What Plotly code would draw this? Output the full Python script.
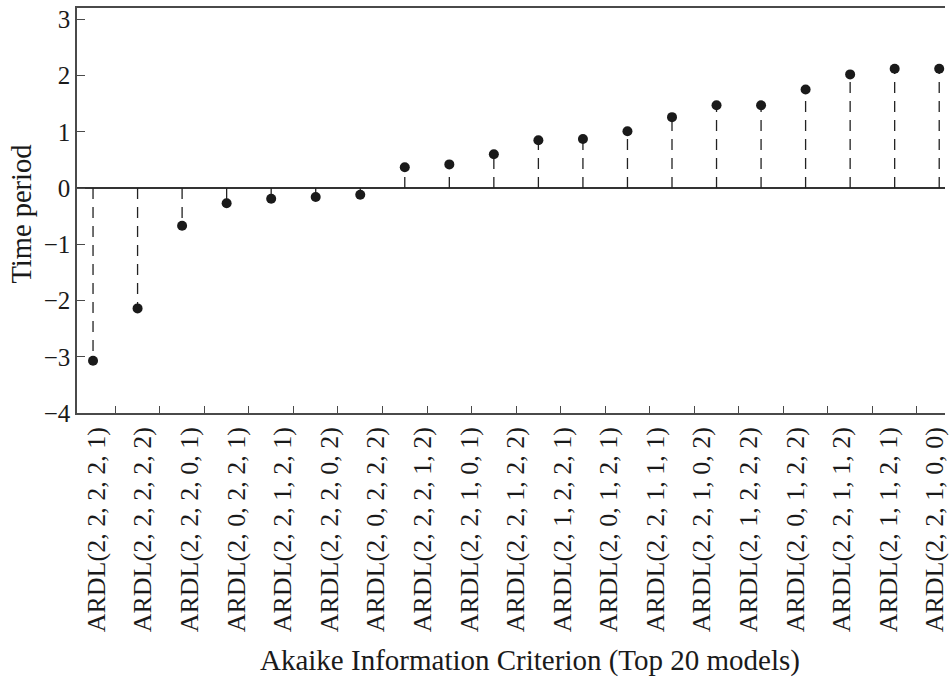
import plotly.graph_objects as go

# AIC values (time period) of the top 20 ARDL models
values = [-3.07, -2.14, -0.67, -0.27, -0.19, -0.16, -0.12, 0.37, 0.42, 0.60,
          0.85, 0.87, 1.01, 1.26, 1.47, 1.47, 1.75, 2.02, 2.12, 2.12]

# tick labels as printed under the axis (19 are visible, the last one is cut)
labels = [
    "ARDL(2, 2, 2, 2, 1)", "ARDL(2, 2, 2, 2, 2)", "ARDL(2, 2, 2, 0, 1)", "ARDL(2, 0, 2, 2, 1)",
    "ARDL(2, 2, 1, 2, 1)", "ARDL(2, 2, 2, 0, 2)", "ARDL(2, 0, 2, 2, 2)", "ARDL(2, 2, 2, 1, 2)",
    "ARDL(2, 2, 1, 0, 1)", "ARDL(2, 2, 1, 2, 2)", "ARDL(2, 1, 2, 2, 1)", "ARDL(2, 0, 1, 2, 1)",
    "ARDL(2, 2, 1, 1, 1)", "ARDL(2, 2, 1, 0, 2)", "ARDL(2, 1, 2, 2, 2)", "ARDL(2, 0, 1, 2, 2)",
    "ARDL(2, 2, 1, 1, 2)", "ARDL(2, 1, 1, 2, 1)", "ARDL(2, 2, 1, 0, 0)",
]

y_ticks = [-4, -3, -2, -1, 0, 1, 2, 3]

FONT = "Liberation Serif, Times New Roman, serif"
INK = "#1a1a1a"
AXIS = "#4a4a4a"

idx = list(range(len(values)))
stem_x, stem_y = [], []
for i, v in zip(idx, values):
    stem_x += [i, i, None]
    stem_y += [0, v, None]

fig = go.Figure()
fig.add_trace(go.Scatter(
    x=stem_x, y=stem_y, mode="lines",
    line=dict(color="#222222", width=1.3, dash="11px,8px"),
    hoverinfo="skip", showlegend=False,
))
fig.add_trace(go.Scatter(
    x=idx, y=values, mode="markers",
    marker=dict(size=10, color=INK),
    showlegend=False,
))
# carrier trace for the label axis
lab_idx = list(range(len(labels)))
fig.add_trace(go.Scatter(
    x=lab_idx, y=[None] * len(labels), xaxis="x2", mode="markers",
    showlegend=False, hoverinfo="skip",
))

fig.update_layout(
    width=949, height=677,
    margin=dict(l=77, r=0, t=8, b=264),
    paper_bgcolor="white", plot_bgcolor="white",
    font=dict(family=FONT, color=INK),
    xaxis=dict(
        range=[-0.36, 19.13],
        tickmode="array",
        tickvals=[i + 0.5 for i in idx[:-1]],
        showticklabels=False,
        ticks="inside", ticklen=7, tickwidth=1.3, tickcolor=AXIS,
        showline=True, linecolor=AXIS, linewidth=1.5, mirror=True,
        showgrid=False, zeroline=False,
    ),
    xaxis2=dict(
        overlaying="x", anchor="y", side="bottom",
        range=[-0.417, 18.215],
        tickmode="array", tickvals=lab_idx, ticktext=labels,
        tickangle=-90, ticks="", ticklabelstandoff=8,
        ticklabeloverflow="allow",
        tickfont=dict(family=FONT, size=26, color=INK),
        showline=False, showgrid=False, zeroline=False,
    ),
    yaxis=dict(
        range=[-4, 3.2],
        tickmode="array", tickvals=y_ticks,
        ticks="inside", ticklen=8, tickwidth=1.3, tickcolor=AXIS,
        tickfont=dict(family=FONT, size=25, color=INK),
        showline=True, linecolor=AXIS, linewidth=1.5,
        showgrid=False,
        zeroline=True, zerolinecolor="#333333", zerolinewidth=1.5,
    ),
    annotations=[
        dict(text="Akaike Information Criterion (Top 20 models)",
             xref="paper", yref="paper", x=0.5224, y=-0.612,
             xanchor="center", yanchor="middle", showarrow=False,
             font=dict(family=FONT, size=29, color=INK)),
        dict(text="Time period",
             xref="paper", yref="paper", x=-0.064, y=0.491,
             xanchor="center", yanchor="middle", textangle=-90, showarrow=False,
             font=dict(family=FONT, size=28.5, color=INK)),
    ],
)

fig.write_html("out.html")
